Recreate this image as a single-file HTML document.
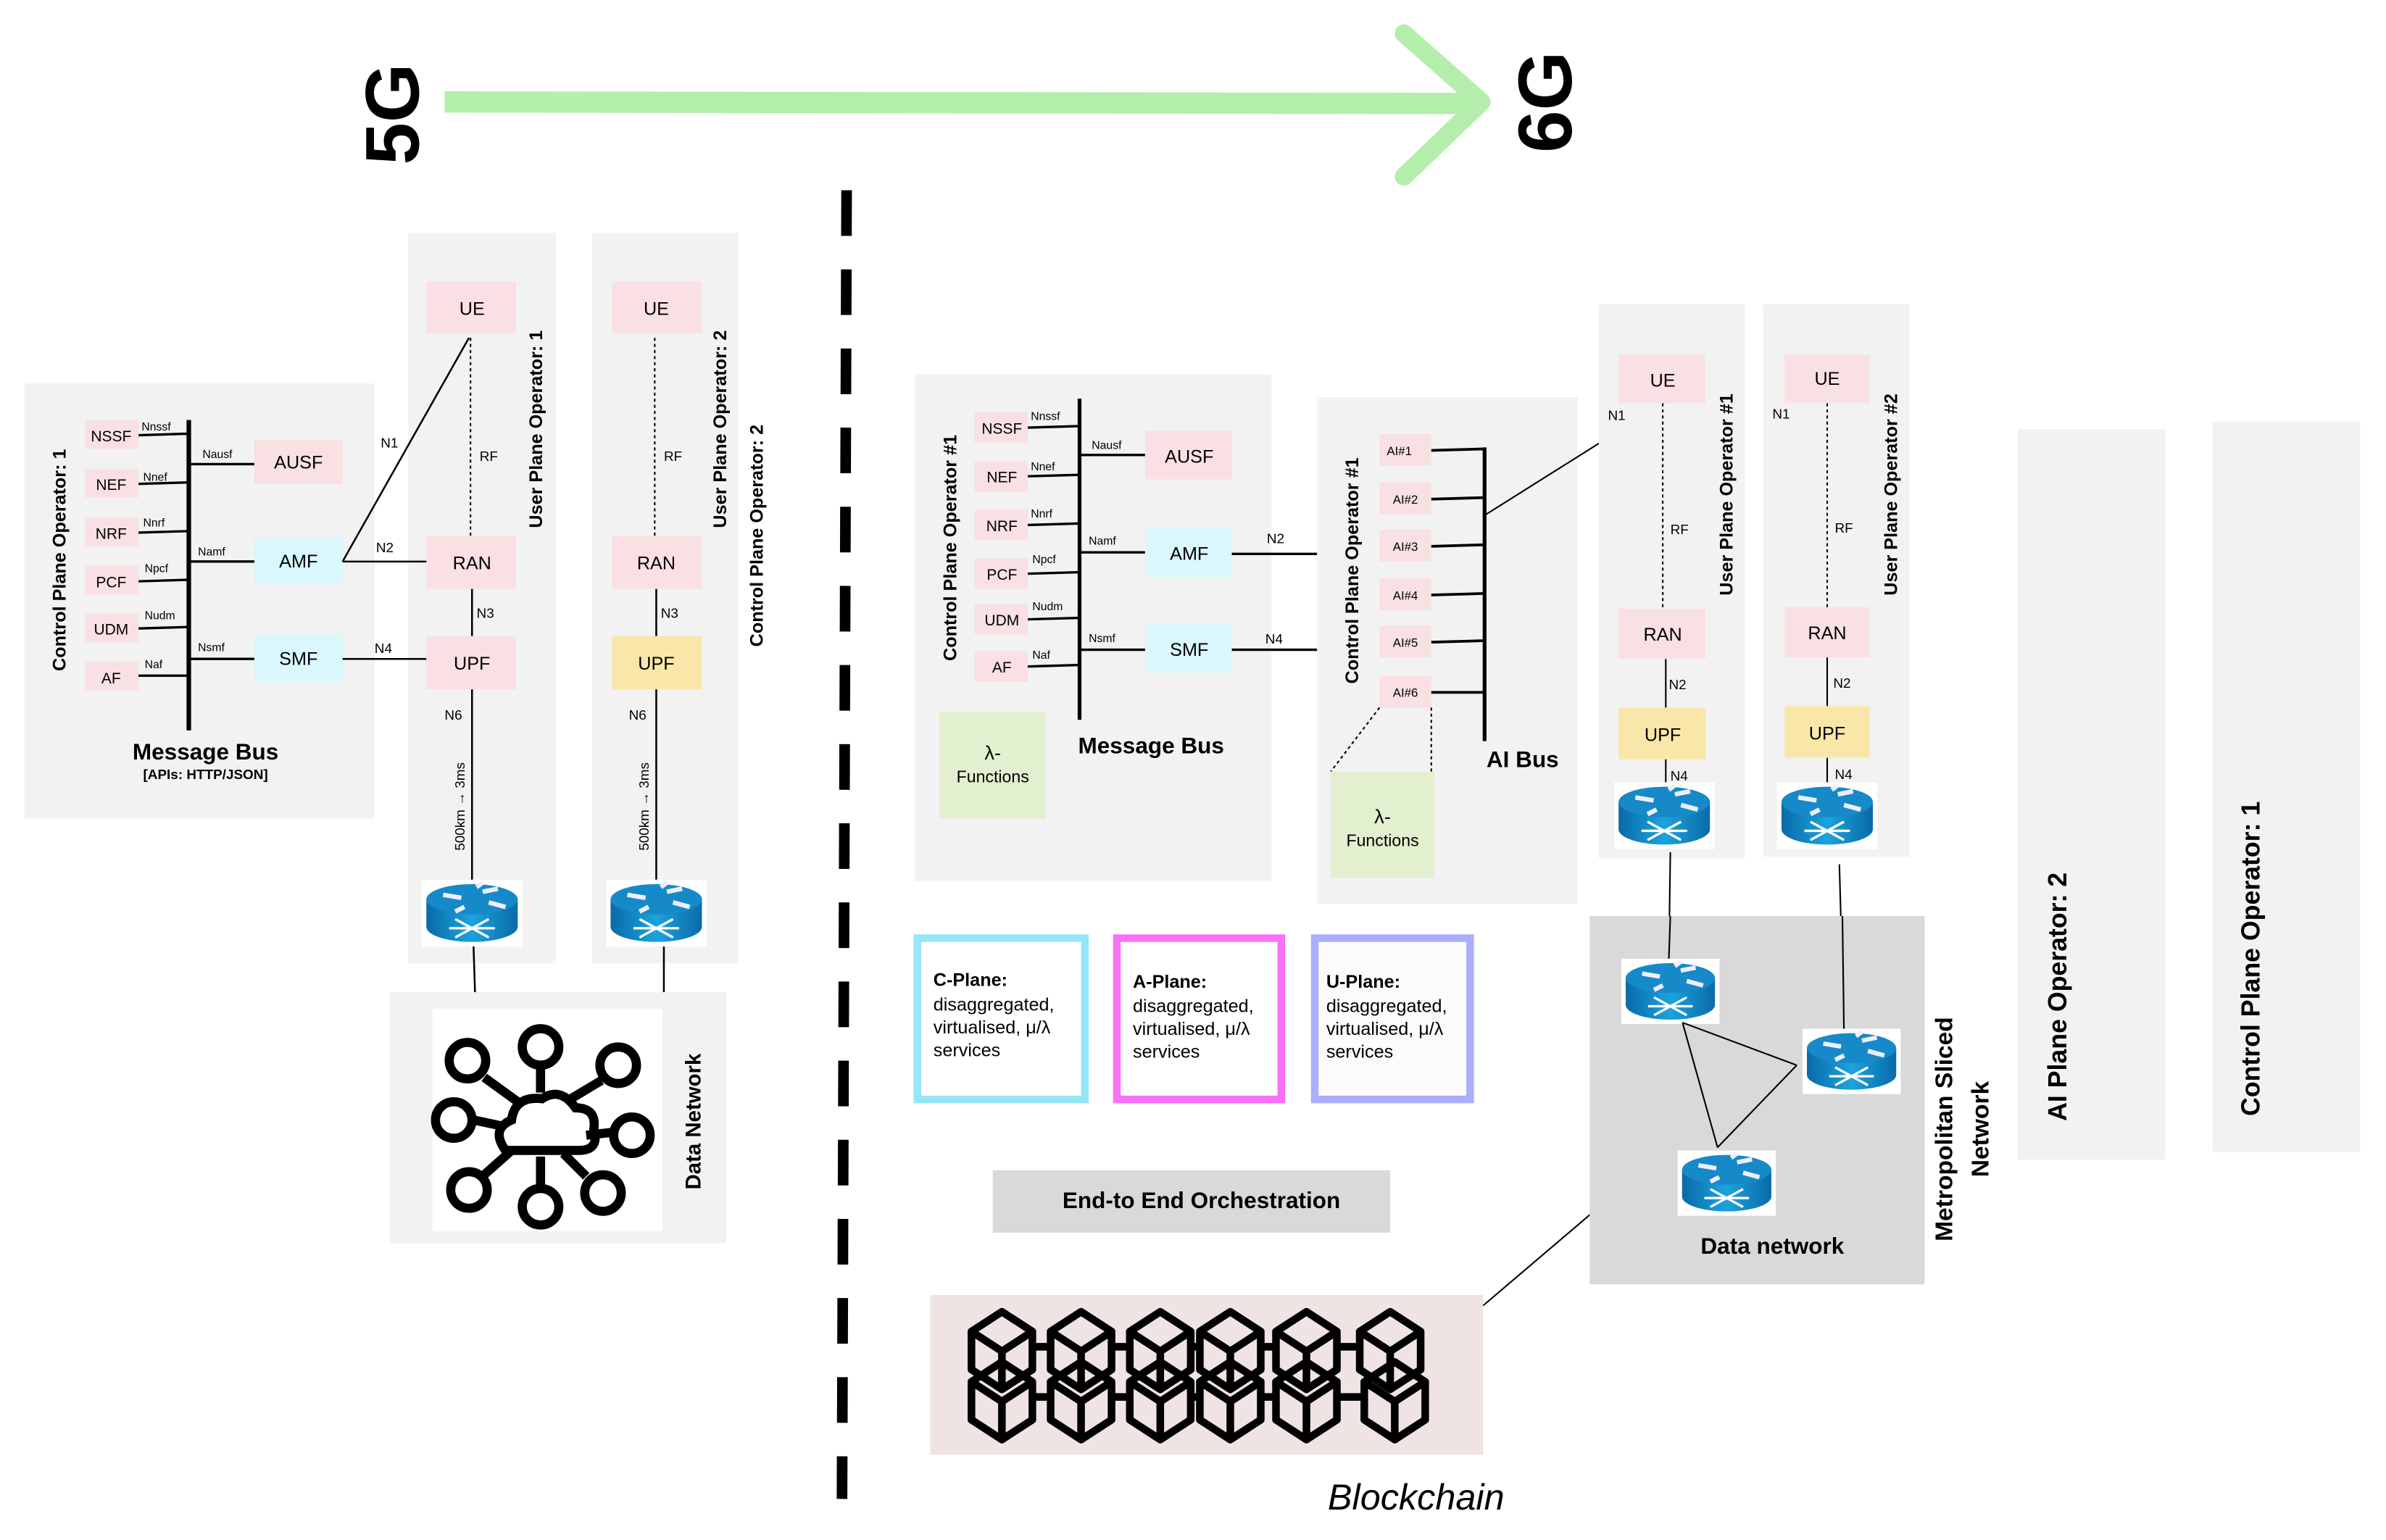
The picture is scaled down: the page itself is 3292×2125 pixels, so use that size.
<!DOCTYPE html>
<html><head><meta charset="utf-8"><style>
html,body{margin:0;padding:0;background:#fff;width:3292px;height:2125px;overflow:hidden}
svg{display:block}
text{font-family:"Liberation Sans",sans-serif}
</style></head><body>
<svg width="3292" height="2125" viewBox="0 0 1567 1012" preserveAspectRatio="none" xmlns="http://www.w3.org/2000/svg">
<defs>
<linearGradient id="rg" x1="0" x2="1" y1="0" y2="0"><stop offset="0" stop-color="#0a6aa8"/><stop offset="0.5" stop-color="#1ba3dd"/><stop offset="1" stop-color="#0a6aa8"/></linearGradient>
<symbol id="router" viewBox="0 0 66 44">
<rect x="0" y="0" width="66" height="44" fill="#fff"/>
<path d="M3 13 L3 31 A30 10 0 0 0 63 31 L63 13 Z" fill="url(#rg)"/>
<ellipse cx="33" cy="13" rx="30" ry="10" fill="#1689c8"/>
<path d="M14 10 L26 12 M40 8 L50 6 M44 15 L55 18 M28 18 L22 21 M36 5 L40 2" stroke="#eef" stroke-width="3"/>
<path d="M22 26 L44 38 M44 26 L22 38 M18 32 L48 32" stroke="#fff" stroke-width="1.6" fill="none"/>
</symbol>
</defs>
<g font-family="Liberation Sans, sans-serif">
<line x1="292" y1="67" x2="972" y2="68" stroke="#b3eeab" stroke-width="14"/>
<polyline points="922,22 973,67 922,116" fill="none" stroke="#b3eeab" stroke-width="12" stroke-linecap="round" stroke-linejoin="round"/>
<text transform="translate(275,75) rotate(-90)" font-size="50" font-weight="bold" text-anchor="middle">5G</text>
<text transform="translate(1032,67) rotate(-90)" font-size="50" font-weight="bold" text-anchor="middle">6G</text>
<line x1="556" y1="125" x2="553" y2="985" stroke="#000" stroke-width="7" stroke-dasharray="30,22"/>

<rect x="16" y="252" width="230" height="286" fill="#f2f2f2"/>
<text transform="translate(43,368) rotate(-90)" font-size="12" font-weight="bold" text-anchor="middle">Control Plane Operator: 1</text>
<g fill="#f9e0e3">
<rect x="56" y="276" width="35" height="19"/><rect x="56" y="308" width="35" height="19"/><rect x="56" y="340" width="35" height="19"/><rect x="56" y="372" width="35" height="19"/><rect x="56" y="403" width="35" height="19"/><rect x="56" y="435" width="35" height="19"/>
<rect x="167" y="289" width="58" height="29"/></g>
<rect x="167" y="353" width="58" height="31" fill="#d9f7fc"/><rect x="167" y="417" width="58" height="31" fill="#d9f7fc"/>
<g font-size="10" text-anchor="middle"><text x="73" y="290">NSSF</text><text x="73" y="322">NEF</text><text x="73" y="354">NRF</text><text x="73" y="386">PCF</text><text x="73" y="417">UDM</text><text x="73" y="449">AF</text></g>
<g font-size="12" text-anchor="middle"><text x="196" y="308">AUSF</text><text x="196" y="373">AMF</text><text x="196" y="437">SMF</text></g>
<line x1="124" y1="276" x2="124" y2="480" stroke="#000" stroke-width="3"/>
<g stroke="#000" stroke-width="1.6"><line x1="91" y1="286" x2="124" y2="285"/><line x1="91" y1="318" x2="124" y2="317"/><line x1="91" y1="350" x2="124" y2="349"/><line x1="91" y1="382" x2="124" y2="381"/><line x1="91" y1="413" x2="124" y2="412"/><line x1="91" y1="444" x2="124" y2="444"/>
<line x1="124" y1="305" x2="167" y2="305"/><line x1="124" y1="369" x2="167" y2="369"/><line x1="124" y1="433" x2="167" y2="433"/></g>
<g font-size="7.5"><text x="93" y="283">Nnssf</text><text x="94" y="316">Nnef</text><text x="94" y="346">Nnrf</text><text x="95" y="376">Npcf</text><text x="95" y="407">Nudm</text><text x="95" y="439">Naf</text><text x="133" y="301">Nausf</text><text x="130" y="365">Namf</text><text x="130" y="428">Nsmf</text></g>
<text x="135" y="499" font-size="15" font-weight="bold" text-anchor="middle">Message Bus</text>
<text x="135" y="512" font-size="9" font-weight="bold" text-anchor="middle">[APIs: HTTP/JSON]</text>

<rect x="268" y="153" width="97" height="480" fill="#f2f2f2"/>
<rect x="389" y="153" width="96" height="480" fill="#f2f2f2"/>
<g fill="#f9e0e3"><rect x="280" y="185" width="59" height="34"/><rect x="280" y="352" width="59" height="35"/><rect x="280" y="418" width="59" height="35"/><rect x="402" y="185" width="59" height="34"/><rect x="402" y="352" width="59" height="35"/></g>
<rect x="402" y="418" width="59" height="35" fill="#f9e7a9"/>
<g font-size="12" text-anchor="middle"><text x="310" y="207">UE</text><text x="310" y="374">RAN</text><text x="310" y="440">UPF</text><text x="431" y="207">UE</text><text x="431" y="374">RAN</text><text x="431" y="440">UPF</text></g>
<g stroke="#000" stroke-width="1.2"><line x1="308" y1="222" x2="225" y2="369"/><line x1="225" y1="369" x2="280" y2="369"/><line x1="225" y1="433" x2="280" y2="433"/><line x1="310" y1="387" x2="310" y2="418"/><line x1="310" y1="453" x2="310" y2="580"/><line x1="311" y1="622" x2="312" y2="653"/>
<line x1="431" y1="387" x2="431" y2="418"/><line x1="431" y1="453" x2="431" y2="580"/><line x1="436" y1="622" x2="436" y2="652"/></g>
<g stroke="#000" stroke-width="1" stroke-dasharray="2,2"><line x1="309" y1="222" x2="309" y2="352"/><line x1="430" y1="222" x2="430" y2="352"/></g>
<g font-size="9"><text x="250" y="294">N1</text><text x="247" y="363">N2</text><text x="246" y="429">N4</text><text x="313" y="406">N3</text><text x="292" y="473">N6</text><text x="315" y="303">RF</text><text x="434" y="406">N3</text><text x="413" y="473">N6</text><text x="436" y="303">RF</text></g>
<text transform="translate(305,530) rotate(-90)" font-size="9" text-anchor="middle">500km → 3ms</text>
<text transform="translate(426,530) rotate(-90)" font-size="9" text-anchor="middle">500km → 3ms</text>
<use href="#router" x="277" y="578" width="66" height="44"/><use href="#router" x="398" y="578" width="66" height="44"/>
<text transform="translate(356,282) rotate(-90)" font-size="12" font-weight="bold" text-anchor="middle">User Plane Operator: 1</text>
<text transform="translate(477,282) rotate(-90)" font-size="12" font-weight="bold" text-anchor="middle">User Plane Operator: 2</text>
<text transform="translate(501,352) rotate(-90)" font-size="12" font-weight="bold" text-anchor="middle">Control Plane Operator: 2</text>

<rect x="256" y="652" width="221" height="165" fill="#f2f2f2"/>
<rect x="284" y="663" width="151" height="146" fill="#fff"/>
<g stroke="#000" stroke-width="6" fill="none">
<line x1="355" y1="700" x2="355" y2="718"/><line x1="318" y1="708" x2="340" y2="724"/><line x1="395" y1="710" x2="375" y2="722"/><line x1="311" y1="736" x2="330" y2="740"/><line x1="403" y1="744" x2="385" y2="746"/><line x1="318" y1="772" x2="336" y2="756"/><line x1="355" y1="781" x2="355" y2="760"/><line x1="385" y1="773" x2="370" y2="758"/>
<circle cx="355" cy="688" r="12"/><circle cx="307" cy="697" r="12"/><circle cx="406" cy="700" r="12"/><circle cx="298" cy="736" r="12"/><circle cx="415" cy="746" r="12"/><circle cx="308" cy="782" r="12"/><circle cx="355" cy="793" r="12"/><circle cx="396" cy="784" r="12"/>
<path d="M332 756 Q322 742 336 736 Q338 720 356 722 Q368 714 378 728 Q392 728 390 742 Q394 756 380 756 Z"/>
</g>
<text transform="translate(460,737) rotate(-90)" font-size="14" font-weight="bold" text-anchor="middle">Data Network</text>

<rect x="601" y="246" width="234" height="333" fill="#f2f2f2"/>
<text transform="translate(628,360) rotate(-90)" font-size="12" font-weight="bold" text-anchor="middle">Control Plane Operator  #1</text>
<g fill="#f9e0e3"><rect x="640" y="271" width="35" height="20"/><rect x="640" y="303" width="35" height="20"/><rect x="640" y="335" width="35" height="20"/><rect x="640" y="367" width="35" height="20"/><rect x="640" y="397" width="35" height="20"/><rect x="640" y="428" width="35" height="20"/><rect x="752" y="283" width="57" height="32"/></g>
<rect x="752" y="347" width="57" height="32" fill="#d9f7fc"/><rect x="752" y="410" width="57" height="32" fill="#d9f7fc"/>
<g font-size="10" text-anchor="middle"><text x="658" y="285">NSSF</text><text x="658" y="317">NEF</text><text x="658" y="349">NRF</text><text x="658" y="381">PCF</text><text x="658" y="411">UDM</text><text x="658" y="442">AF</text></g>
<g font-size="12" text-anchor="middle"><text x="781" y="304">AUSF</text><text x="781" y="368">AMF</text><text x="781" y="431">SMF</text></g>
<line x1="709" y1="262" x2="709" y2="473" stroke="#000" stroke-width="2.5"/>
<g stroke="#000" stroke-width="1.6"><line x1="675" y1="281" x2="709" y2="280"/><line x1="675" y1="313" x2="709" y2="312"/><line x1="675" y1="345" x2="709" y2="344"/><line x1="675" y1="377" x2="709" y2="376"/><line x1="675" y1="407" x2="709" y2="406"/><line x1="675" y1="438" x2="709" y2="437"/>
<line x1="709" y1="299" x2="752" y2="299"/><line x1="709" y1="363" x2="752" y2="363"/><line x1="709" y1="427" x2="752" y2="427"/><line x1="809" y1="364" x2="865" y2="364"/><line x1="809" y1="427" x2="865" y2="427"/></g>
<g font-size="7.5"><text x="677" y="276">Nnssf</text><text x="677" y="309">Nnef</text><text x="677" y="340">Nnrf</text><text x="678" y="370">Npcf</text><text x="678" y="401">Nudm</text><text x="678" y="433">Naf</text><text x="717" y="295">Nausf</text><text x="715" y="358">Namf</text><text x="715" y="422">Nsmf</text></g>
<g font-size="9"><text x="832" y="357">N2</text><text x="831" y="423">N4</text></g>
<rect x="617" y="468" width="70" height="70" fill="#e2f0d0"/>
<text x="652" y="499" font-size="13" text-anchor="middle">λ-</text><text x="652" y="514" font-size="11" text-anchor="middle">Functions</text>
<text x="756" y="495" font-size="15" font-weight="bold" text-anchor="middle">Message Bus</text>

<rect x="865" y="261" width="171" height="333" fill="#f2f2f2"/>
<text transform="translate(892,375) rotate(-90)" font-size="12" font-weight="bold" text-anchor="middle">Control Plane Operator  #1</text>
<g fill="#f9e0e3"><rect x="906" y="285" width="34" height="21"/><rect x="906" y="317" width="34" height="21"/><rect x="906" y="348" width="34" height="21"/><rect x="906" y="380" width="34" height="21"/><rect x="906" y="411" width="34" height="21"/><rect x="906" y="444" width="34" height="21"/></g>
<g font-size="8" text-anchor="middle"><text x="919" y="299">AI#1</text><text x="923" y="331">AI#2</text><text x="923" y="362">AI#3</text><text x="923" y="394">AI#4</text><text x="923" y="425">AI#5</text><text x="923" y="458">AI#6</text></g>
<line x1="975" y1="294" x2="975" y2="487" stroke="#000" stroke-width="2.5"/>
<g stroke="#000" stroke-width="1.8"><line x1="940" y1="296" x2="975" y2="295"/><line x1="940" y1="328" x2="975" y2="327"/><line x1="940" y1="359" x2="975" y2="358"/><line x1="940" y1="391" x2="975" y2="390"/><line x1="940" y1="422" x2="975" y2="421"/><line x1="940" y1="455" x2="975" y2="455"/></g>
<line x1="976" y1="338" x2="1092" y2="265" stroke="#000" stroke-width="1"/>
<text x="1000" y="504" font-size="15" font-weight="bold" text-anchor="middle">AI Bus</text>
<g stroke="#000" stroke-width="1" stroke-dasharray="2,2"><line x1="906" y1="465" x2="874" y2="507"/><line x1="940" y1="465" x2="940" y2="507"/></g>
<rect x="874" y="507" width="68" height="70" fill="#e2f0d0"/>
<text x="908" y="541" font-size="13" text-anchor="middle">λ-</text><text x="908" y="556" font-size="11" text-anchor="middle">Functions</text>

<rect x="1050" y="200" width="96" height="364" fill="#f2f2f2"/>
<rect x="1158" y="200" width="96" height="363" fill="#f2f2f2"/>
<g fill="#f9e0e3"><rect x="1063" y="233" width="57" height="32"/><rect x="1063" y="400" width="57" height="33"/><rect x="1172" y="233" width="56" height="32"/><rect x="1172" y="399" width="56" height="33"/></g>
<g fill="#f9e7a9"><rect x="1063" y="465" width="57" height="34"/><rect x="1172" y="464" width="56" height="34"/></g>
<g font-size="12" text-anchor="middle"><text x="1092" y="254">UE</text><text x="1092" y="421">RAN</text><text x="1092" y="487">UPF</text><text x="1200" y="253">UE</text><text x="1200" y="420">RAN</text><text x="1200" y="486">UPF</text></g>
<g stroke="#000" stroke-width="1"><line x1="1094" y1="433" x2="1094" y2="465"/><line x1="1094" y1="499" x2="1094" y2="516"/><line x1="1200" y1="432" x2="1200" y2="464"/><line x1="1200" y1="498" x2="1200" y2="515"/>
<line x1="1097" y1="560" x2="1096" y2="630"/><line x1="1208" y1="568" x2="1211" y2="676"/>
<line x1="974" y1="858" x2="1048" y2="795"/></g>
<g stroke="#000" stroke-width="1" stroke-dasharray="2,2"><line x1="1092" y1="265" x2="1092" y2="400"/><line x1="1200" y1="265" x2="1200" y2="399"/></g>
<g font-size="9"><text x="1056" y="276">N1</text><text x="1164" y="275">N1</text><text x="1097" y="351">RF</text><text x="1205" y="350">RF</text><text x="1096" y="453">N2</text><text x="1204" y="452">N2</text><text x="1097" y="513">N4</text><text x="1205" y="512">N4</text></g>
<use href="#router" x="1060" y="514" width="66" height="44"/><use href="#router" x="1167" y="514" width="66" height="44"/>
<text transform="translate(1138,325) rotate(-90)" font-size="12" font-weight="bold" text-anchor="middle">User Plane Operator  #1</text>
<text transform="translate(1246,325) rotate(-90)" font-size="12" font-weight="bold" text-anchor="middle">User Plane Operator  #2</text>

<rect x="1044" y="602" width="220" height="242" fill="#d9d9d9"/>
<g stroke="#000" stroke-width="1"><line x1="1097" y1="602" x2="1096" y2="630"/><line x1="1210" y1="602" x2="1211" y2="676"/></g>
<use href="#router" x="1063" y="630" width="68" height="43"/><use href="#router" x="1182" y="676" width="68" height="43"/><use href="#router" x="1100" y="756" width="68" height="43"/>
<g stroke="#000" stroke-width="1"><line x1="1105" y1="672" x2="1128" y2="754"/><line x1="1105" y1="672" x2="1180" y2="700"/><line x1="1180" y1="700" x2="1128" y2="754"/></g>
<text x="1164" y="824" font-size="15" font-weight="bold" text-anchor="middle">Data network</text>
<text transform="translate(1282,742) rotate(-90)" font-size="16" font-weight="bold" text-anchor="middle">Metropolitan Sliced</text>
<text transform="translate(1306,742) rotate(-90)" font-size="16" font-weight="bold" text-anchor="middle">Network</text>

<rect x="1325" y="282" width="97" height="480" fill="#f2f2f2"/>
<rect x="1453" y="277" width="97" height="480" fill="#f2f2f2"/>
<text transform="translate(1357,655) rotate(-90)" font-size="17" font-weight="bold" text-anchor="middle">AI Plane Operator: 2</text>
<text transform="translate(1484,630) rotate(-90)" font-size="17" font-weight="bold" text-anchor="middle">Control Plane Operator: 1</text>

<rect x="602.5" y="616.5" width="110" height="106" fill="#fff" stroke="#95e6f7" stroke-width="5"/>
<rect x="733.5" y="616.5" width="108" height="106" fill="#fff" stroke="#f971f9" stroke-width="5"/>
<rect x="863.5" y="616.5" width="102" height="106" fill="#fdfafc" stroke="#aaaefc" stroke-width="5"/>
<g font-size="12"><text x="613" y="648" font-weight="bold">C-Plane:</text><text x="613" y="664">disaggregated,</text><text x="613" y="679">virtualised, μ/λ</text><text x="613" y="694">services</text>
<text x="744" y="649" font-weight="bold">A-Plane:</text><text x="744" y="665">disaggregated,</text><text x="744" y="680">virtualised, μ/λ</text><text x="744" y="695">services</text>
<text x="871" y="649" font-weight="bold">U-Plane:</text><text x="871" y="665">disaggregated,</text><text x="871" y="680">virtualised, μ/λ</text><text x="871" y="695">services</text></g>
<rect x="652" y="769" width="261" height="41" fill="#d9d9d9"/>
<text x="789" y="794" font-size="15" font-weight="bold" text-anchor="middle">End-to End Orchestration</text>

<rect x="611" y="851" width="363" height="105" fill="#efe3e3"/>
<g stroke="#000" stroke-width="5" fill="none" stroke-linejoin="round">
<g id="cube"><path d="M638 875 L658 862 L678 875 L678 900 L658 913 L638 900 Z M638 875 L658 888 L678 875 M658 888 L658 913"/></g>
<use href="#cube" x="52"/><use href="#cube" x="104"/><use href="#cube" x="150"/><use href="#cube" x="200"/><use href="#cube" x="255"/>
<use href="#cube" y="33"/><use href="#cube" x="52" y="33"/><use href="#cube" x="104" y="33"/><use href="#cube" x="150" y="33"/><use href="#cube" x="200" y="33"/><use href="#cube" x="258" y="33"/>
<path d="M678 885 H690 M730 885 H742 M782 885 H788 M828 885 H838 M878 885 H893 M678 918 H690 M730 918 H742 M782 918 H788 M828 918 H838 M878 918 H896"/>
</g>
<text x="930" y="992" font-size="24" font-style="italic" text-anchor="middle">Blockchain</text>
</g>
</svg>
</body></html>
